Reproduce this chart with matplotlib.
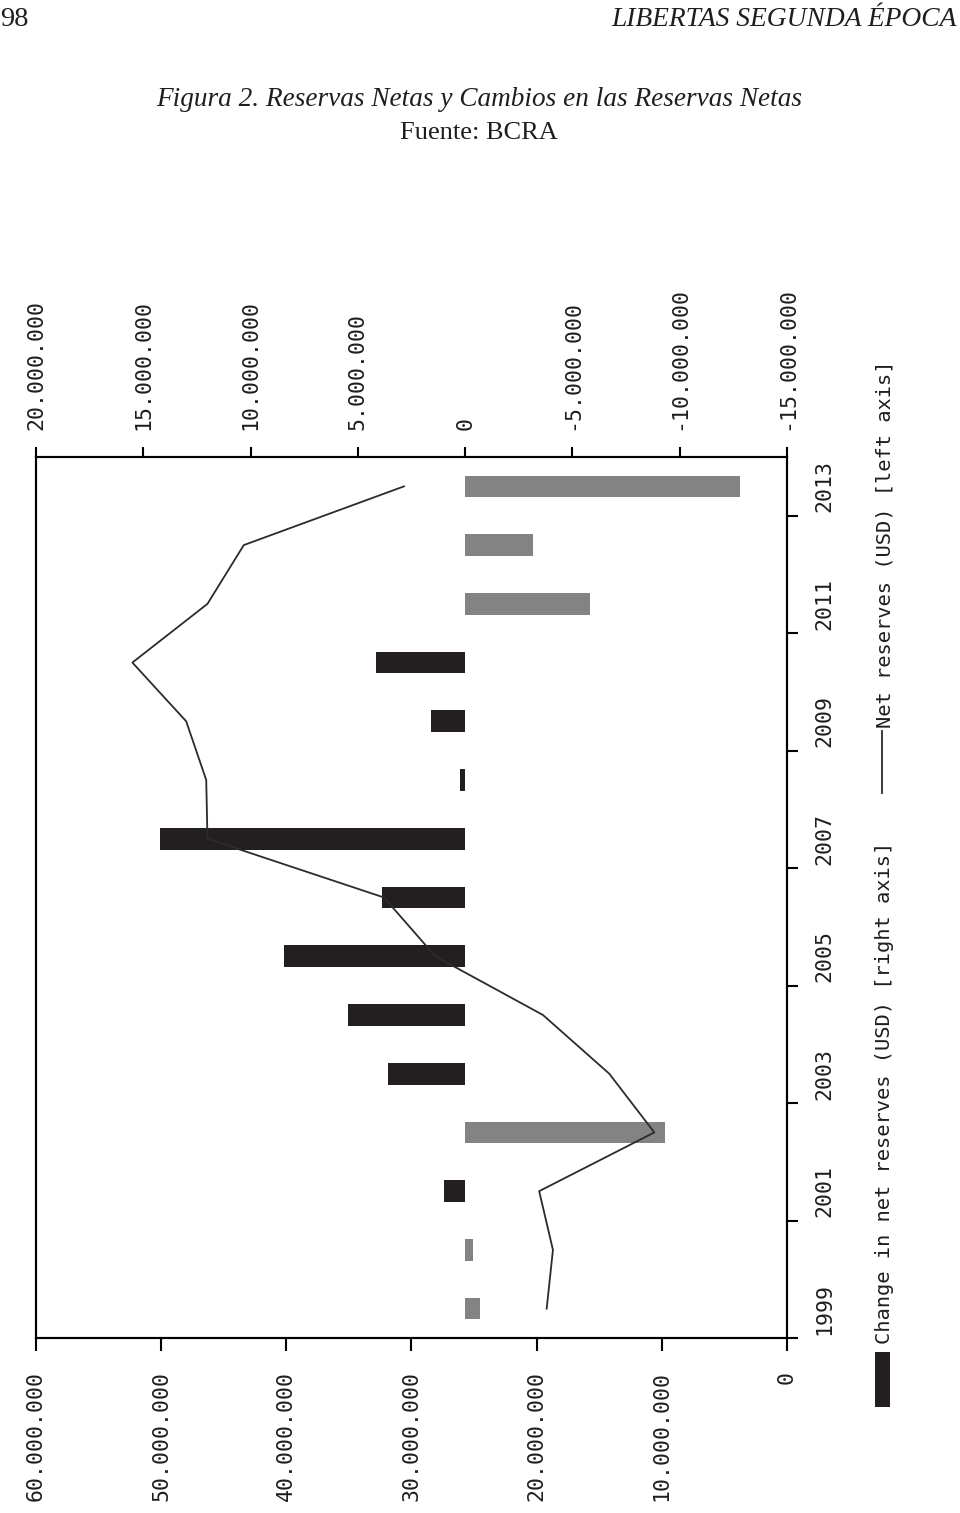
import matplotlib
matplotlib.use("Agg")
import matplotlib.pyplot as plt
from matplotlib.ticker import FuncFormatter
from matplotlib.patches import Rectangle
from matplotlib.lines import Line2D

# ---------------- data ----------------
years = [1999, 2000, 2001, 2002, 2003, 2004, 2005, 2006, 2007, 2008, 2009, 2010, 2011, 2012, 2013]
net_reserves = [19.2e6, 18.7e6, 19.8e6, 10.6e6, 14.2e6, 19.5e6, 28.1e6, 32.2e6,
                46.3e6, 46.4e6, 48.0e6, 52.3e6, 46.3e6, 43.4e6, 30.6e6]
change_reserves = [-0.67e6, -0.37e6, 1.0e6, -9.3e6, 3.59e6, 5.45e6, 8.42e6, 3.87e6,
                   14.2e6, 0.22e6, 1.59e6, 4.17e6, -5.84e6, -3.15e6, -12.8e6]
left_ticks = [0, 10e6, 20e6, 30e6, 40e6, 50e6, 60e6]
right_ticks = [-15e6, -10e6, -5e6, 0, 5e6, 10e6, 15e6, 20e6]
year_labels = ['1999', '2001', '2003', '2005', '2007', '2009', '2011', '2013']

header_left = '98'
header_right = 'LIBERTAS SEGUNDA ÉPOCA'
title = 'Figura 2. Reservas Netas y Cambios en las Reservas Netas'
source = 'Fuente: BCRA'
legend_bar = 'Change in net reserves (USD) [right axis]'
legend_line = 'Net reserves (USD) [left axis]'

# ---------------- style ----------------
W, H = 960, 1513
BLACK = '#231f20'
GRAY = '#838383'
TXT = '#1e1e1e'
MONO = 'DejaVu Sans Mono'
SERIF = 'Liberation Serif'

def fmt(v, _pos=None):
    s = f"{int(round(v)):,}".replace(',', '.')
    return s

fig = plt.figure(figsize=(W / 100, H / 100), dpi=100)
fig.patch.set_facecolor('white')

ax = fig.add_axes([36 / W, (H - 1338) / H, (787 - 36) / W, (1338 - 457) / H])
ax2 = ax.twiny()

idx = list(range(len(years)))

# bars: change in net reserves (top axis, in the rotated page)
bar_colors = [BLACK if v > 0 else GRAY for v in change_reserves]
ax.barh(idx, change_reserves, height=0.37, color=bar_colors, zorder=2)
ax.set_xlim(20e6, -15e6)
ax.set_ylim(-0.5, len(years) - 0.5)

# line: net reserves (bottom axis)
ax2.plot(net_reserves, idx, color='#2b2b2b', lw=1.3, zorder=3)
ax2.set_xlim(60e6, 0)
ax2.set_ylim(-0.5, len(years) - 0.5)

# top axis (change)
ax.xaxis.tick_top()
ax.set_xticks(right_ticks)
ax.xaxis.set_major_formatter(FuncFormatter(fmt))
ax.tick_params(axis='x', direction='out', length=7.5, width=1.5, pad=12,
               labelsize=15.5, labelrotation=90, labelcolor=TXT)
for lb in ax.get_xticklabels():
    lb.set_family(MONO)

# bottom axis (net reserves)
ax2.xaxis.tick_bottom()
ax2.set_xticks(left_ticks)
ax2.xaxis.set_major_formatter(FuncFormatter(fmt))
ax2.tick_params(axis='x', direction='out', length=9, width=1.5, pad=15,
                labelsize=15.5, labelrotation=90, labelcolor=TXT)
for lb in ax2.get_xticklabels():
    lb.set_family(MONO)

# right axis (years)
ax.yaxis.tick_right()
ax.set_yticks([b - 0.5 for b in range(0, len(years), 2)])
ax.set_yticklabels([])
ax.set_yticks(list(range(0, len(years), 2)), minor=True)
ax.set_yticklabels(year_labels, minor=True)
ax.tick_params(axis='y', which='major', direction='out', length=8, width=1.5)
ax.tick_params(axis='y', which='minor', length=0, pad=20, labelsize=15.5,
               labelrotation=90, labelcolor=TXT)
for lb in ax.get_yticklabels(minor=True):
    lb.set_family(MONO)
    lb.set_va('center')

for a in (ax, ax2):
    for sp in a.spines.values():
        sp.set_linewidth(1.5)
        sp.set_color('black')

# ---------------- legend (rotated, manual) ----------------
fig.add_artist(Rectangle((875 / W, 1 - 1407 / H), 15 / W, 55 / H,
                         transform=fig.transFigure, color=BLACK, lw=0))
fig.text(885 / W, 1 - 1344 / H, legend_bar, rotation=90, ha='center', va='bottom',
         family=MONO, size=14.7, color=TXT)
fig.add_artist(Line2D([882 / W, 882 / W], [1 - 793 / H, 1 - 731 / H],
                      transform=fig.transFigure, color='#2b2b2b', lw=1.3))
fig.text(885 / W, 1 - 728 / H, legend_line, rotation=90, ha='center', va='bottom',
         family=MONO, size=14.7, color=TXT)

# ---------------- header ----------------
fig.text(0 / W, 1 - 20 / H, header_left, ha='left', va='center', family=SERIF,
         size=20.5, color=TXT)
fig.text(957 / W, 1 - 19 / H, header_right, ha='right', va='center', family=SERIF,
         style='italic', size=19.8, color=TXT)
fig.text(479 / W, 1 - 100 / H, title, ha='center', va='center', family=SERIF,
         style='italic', size=19.6, color=TXT)
fig.text(479 / W, 1 - 133 / H, source, ha='center', va='center', family=SERIF,
         size=19, color=TXT)

fig.savefig('out.png', dpi=100, facecolor='white')
